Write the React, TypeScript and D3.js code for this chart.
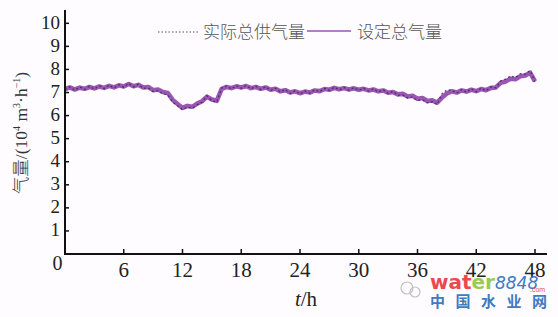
import React from "react";
import * as d3 from "d3";

const hours: number[] = d3.range(0, 48.5, 0.5);

const setFlow: number[] = [
  7.15, 7.22, 7.13, 7.21, 7.16, 7.24, 7.18, 7.26, 7.2, 7.29,
  7.22, 7.31, 7.26, 7.37, 7.27, 7.33, 7.22, 7.24, 7.1, 7.13,
  7.02, 6.98, 6.68, 6.5, 6.33, 6.42, 6.38, 6.52, 6.62, 6.82,
  6.7, 6.64, 7.16, 7.24, 7.19, 7.27, 7.22, 7.28, 7.19, 7.24,
  7.16, 7.22, 7.12, 7.16, 7.05, 7.1, 7.0, 7.05, 6.97, 7.04,
  7.0, 7.09, 7.06, 7.15, 7.12, 7.2, 7.14, 7.19, 7.13, 7.18,
  7.12, 7.16, 7.09, 7.13, 7.05, 7.09, 6.99, 7.02, 6.92, 6.94,
  6.83, 6.86, 6.73, 6.76, 6.63, 6.66, 6.56, 6.78, 6.96, 7.05,
  7.0, 7.09, 7.04, 7.12, 7.06, 7.15, 7.1, 7.2, 7.22, 7.42,
  7.48, 7.6, 7.58, 7.7, 7.74, 7.86, 7.48,
];

const actualFlow: number[] = [
  7.12, 7.25, 7.1, 7.24, 7.13, 7.27, 7.15, 7.29, 7.17, 7.32,
  7.19, 7.34, 7.23, 7.4, 7.24, 7.36, 7.18, 7.2, 7.04, 7.08,
  6.94, 6.9, 6.58, 6.42, 6.26, 6.36, 6.33, 6.47, 6.58, 6.86,
  6.64, 6.58, 7.2, 7.28, 7.15, 7.3, 7.18, 7.31, 7.16, 7.27,
  7.13, 7.25, 7.09, 7.19, 7.02, 7.13, 6.96, 7.08, 6.93, 7.07,
  6.97, 7.12, 7.03, 7.18, 7.09, 7.23, 7.11, 7.22, 7.1, 7.21,
  7.09, 7.19, 7.06, 7.16, 7.02, 7.12, 6.95, 7.05, 6.88, 6.9,
  6.76, 6.8, 6.65, 6.68, 6.55, 6.6, 6.48, 6.95, 7.12, 7.1,
  6.97, 7.13, 7.01, 7.16, 7.03, 7.19, 7.07, 7.24, 7.2, 7.5,
  7.58, 7.72, 7.65, 7.82, 7.8, 7.95, 7.45,
];

const xTicks: number[] = [6, 12, 18, 24, 30, 36, 42, 48];
const yTicks: number[] = [1, 2, 3, 4, 5, 6, 7, 8, 9, 10];
const legendLabels: string[] = ["实际总供气量", "设定总气量"];
const watermarkChars: string[] = ["中", "国", "水", "业", "网"];

const W = 558;
const H = 317;
const x0 = 65;
const y0 = 254;

export default function App() {
  const x = d3.scaleLinear().domain([0, 48]).range([x0, 535]);
  const y = d3.scaleLinear().domain([0, 10]).range([y0, 23.3]);
  const lineGen = d3
    .line<number>()
    .x((_, i) => x(hours[i]))
    .y((d) => y(d));
  const serif = "'Liberation Serif', 'Times New Roman', serif";
  const cjk = "'Noto Sans CJK SC', sans-serif";
  const purple = "#9b55b3";
  return (
    <svg
      width={W}
      height={H}
      style={{ position: "absolute", left: 0, top: 0, background: "#fefcfe" }}
    >
      <rect x={0} y={0} width={W} height={H} fill="#fefcfe" />
      {/* data */}
      <path
        d={lineGen(setFlow) || ""}
        fill="none"
        stroke={purple}
        strokeWidth={4.6}
        strokeLinejoin="round"
      />
      <path
        d={lineGen(actualFlow) || ""}
        fill="none"
        stroke="#2e2a4a"
        strokeWidth={1.2}
        strokeDasharray="2,2.5"
        opacity={0.8}
      />
      {/* axes */}
      <line x1={x0} x2={x0} y1={10} y2={y0 + 1} stroke="#111" strokeWidth={2} />
      <line x1={x0 - 1} x2={547} y1={y0} y2={y0} stroke="#111" strokeWidth={2} />
      {yTicks.map((t) => (
        <g key={"y" + t}>
          <line x1={x0} x2={x0 + 4} y1={y(t)} y2={y(t)} stroke="#111" strokeWidth={1.5} />
          <text
            x={x0 - 5}
            y={y(t) - 1}
            textAnchor="end"
            dominantBaseline="central"
            fontFamily={serif}
            fontSize={19}
            fill="#222"
          >
            {t}
          </text>
        </g>
      ))}
      {xTicks.map((t) => (
        <g key={"x" + t}>
          <line x1={x(t)} x2={x(t)} y1={y0} y2={y0 - 5} stroke="#111" strokeWidth={1.5} />
          <text
            x={x(t)}
            y={277}
            textAnchor="middle"
            fontFamily={serif}
            fontSize={21}
            fill="#222"
          >
            {t}
          </text>
        </g>
      ))}
      <text x={57.5} y={270} textAnchor="middle" fontFamily={serif} fontSize={20} fill="#222">
        0
      </text>
      {/* axis titles */}
      <text
        transform="translate(27,133) rotate(-90)"
        textAnchor="middle"
        fontSize={17.5}
        fill="#333"
        fontFamily={serif}
      >
        <tspan fontFamily={cjk} fontWeight={300}>气量</tspan>
        <tspan>/(10</tspan>
        <tspan fontSize={10} dy={-7}>4</tspan>
        <tspan dy={7}> m</tspan>
        <tspan fontSize={10} dy={-7}>3</tspan>
        <tspan dy={7}>·h</tspan>
        <tspan fontSize={10} dy={-7}>−1</tspan>
        <tspan dy={7}>)</tspan>
      </text>
      <text x={306} y={306} textAnchor="middle" fontFamily={serif} fontSize={21} fill="#222">
        <tspan fontStyle="italic">t</tspan>/h
      </text>
      {/* legend */}
      <line x1={158} x2={198} y1={32} y2={32} stroke="#555" strokeWidth={1} strokeDasharray="1.5,2" />
      <text x={203} y={38} fontFamily={cjk} fontSize={17} fill="#555" fontWeight={300}>
        {legendLabels[0]}
      </text>
      <line x1={307} x2={351} y1={31} y2={31} stroke={purple} strokeWidth={1.5} />
      <text x={357} y={38} fontFamily={cjk} fontSize={17} fill="#555" fontWeight={300}>
        {legendLabels[1]}
      </text>
      {/* watermark */}
      <g opacity={0.9}>
        <circle cx={407} cy={288} r={6} fill="none" stroke="#bbb" strokeWidth={1.2} />
        <circle cx={415} cy={292} r={5} fill="none" stroke="#bbb" strokeWidth={1.2} />
        <text x={430} y={289} fontFamily="'DejaVu Sans', sans-serif" fontWeight="bold" fontSize={20}>
          <tspan fill="#e8363a">wat</tspan>
          <tspan fill="#8cc63f">er</tspan>
          <tspan fill="#2a6ebb" fontStyle="italic" fontWeight="normal" fontSize={17}>8848</tspan>
        </text>
        <text x={530} y={292} fontFamily="sans-serif" fontSize={7} fill="#e8363a">.com</text>
        {watermarkChars.map((c, i) => (
          <text
            key={c}
            x={430 + i * 25.5}
            y={307}
            fontFamily={cjk}
            fontWeight="bold"
            fontSize={15}
            fill="#2a6ebb"
          >
            {c}
          </text>
        ))}
      </g>
    </svg>
  );
}
